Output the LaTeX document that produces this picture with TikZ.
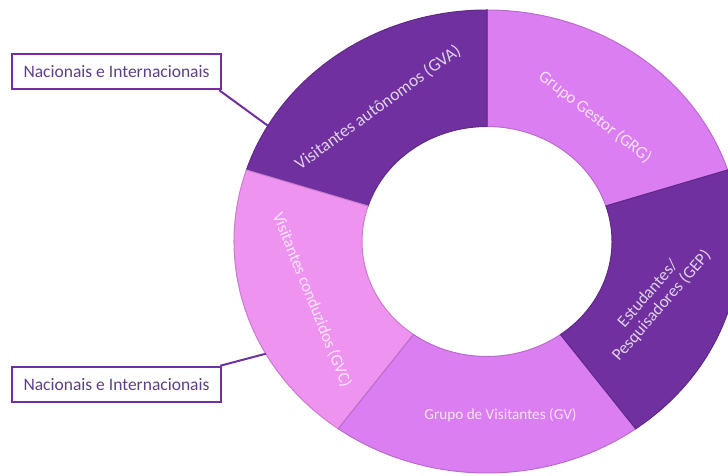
\documentclass[tikz,border=0pt]{standalone}
\usepackage{fontspec}
\setmainfont{Carlito}
\usepackage{tikz}
\usepackage{color}
\usetikzlibrary{calc}

\definecolor{royal}{HTML}{7030A0}
\definecolor{orchid}{HTML}{DB7EF1}
\definecolor{pinkish}{HTML}{EE93EF}
\definecolor{boxtext}{HTML}{5E3F8A}

\tikzset{
	seglabel/.style={text=white, text opacity=0.78, align=center, font=\fontsize{17}{18}\selectfont},
	boxlabel/.style={draw=royal, line width=2.5, fill=white, rectangle, minimum width=209, minimum height=35, inner sep=0, text=boxtext, font=\fontsize{17.5}{20}\selectfont},
	leader/.style={draw=royal, line width=2}
}

\begin{document}
\begin{tikzpicture}[x=1pt, y=1pt]
			\useasboundingbox (0,0) rectangle (728,476);
			\clip (0,0) rectangle (728,476);
			\begin{scope}[shift={(487,234.5)}]
				\foreach \a/\b/\c in {18/90/orchid, 90/162/royal, 162/234/pinkish, 234/306/orchid, 306/378/royal}
					\filldraw[fill=\c, draw=\c!85!black, line width=1] (\a:253 and 231.5) arc[start angle=\a, end angle=\b, x radius=253, y radius=231.5] -- (\b:125 and 115) arc[start angle=\b, end angle=\a, x radius=125, y radius=115] -- cycle;
				\node[seglabel, font=\fontsize{17.6}{20}\selectfont, rotate=36] (GVA)at(-109, 134) {Visitantes autônomos (GVA)};
				\node[seglabel, rotate=-38] (GRG)at(108, 124.5) {Grupo Gestor (GRG)};
				\node[seglabel, rotate=49] (GEP)at(168, -58.5) {Estudantes/\\Pesquisadores (GEP)};
				\node[seglabel, font=\fontsize{15.2}{18}\selectfont] (GV)at(13.5, -173.5) {Grupo de Visitantes (GV)};
				\node[seglabel, font=\fontsize{16.5}{19}\selectfont, rotate=-68] (GVC)at(-175, -58.5) {Visitantes conduzidos (GVC)};
				\coordinate (GVAedge) at (150:253 and 231.5);
				\coordinate (GVCedge) at (209:253 and 231.5);
			\end{scope}
			\node[boxlabel] (NIa)at(116.5, 404.5) {Nacionais e Internacionais};
			\node[boxlabel] (NIb)at(116.5, 91.5) {Nacionais e Internacionais};
			\draw[leader] ([xshift=-3]NIa.south east) -- (GVAedge);
			\draw[leader] ([xshift=-2]NIb.north east) -- (GVCedge);
\end{tikzpicture}
\end{document}
